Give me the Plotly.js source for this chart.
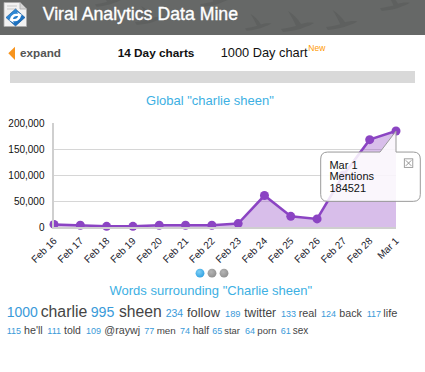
<!DOCTYPE html>
<html>
<head>
<meta charset="utf-8">
<script src="https://cdn.plot.ly/plotly-3.0.1.min.js"></script>
<style>
  html, body { margin:0; padding:0; background:#fff; }
  body { width:425px; height:372px; overflow:hidden; position:relative; font-family:"Liberation Sans", Arial, Helvetica, sans-serif; }
  #chart { position:absolute; left:0; top:90px; width:425px; height:180px; }
  #page { position:absolute; left:0; top:0; width:425px; height:372px; pointer-events:none; }
  #tip { position:absolute; left:0; top:0; width:425px; height:372px; pointer-events:none; }
</style>
</head>
<body>
<div id="chart"></div>
<svg id="page" width="425" height="372" xmlns="http://www.w3.org/2000/svg">
  <defs>
    <radialGradient id="gblue" cx="40%" cy="35%" r="70%">
      <stop offset="0" stop-color="#7fd0f7"/>
      <stop offset="1" stop-color="#2e9fe0"/>
    </radialGradient>
    <radialGradient id="ggray" cx="40%" cy="35%" r="70%">
      <stop offset="0" stop-color="#b5b5b5"/>
      <stop offset="1" stop-color="#8e8e8e"/>
    </radialGradient>
    <linearGradient id="glogo" x1="0" y1="0" x2="1" y2="1">
      <stop offset="0" stop-color="#3d9be6"/>
      <stop offset="1" stop-color="#0d5fb0"/>
    </linearGradient>
    <path id="bird" d="M0,18 C7,17 11,16 15,15 C13,10 10,5 7,0 C12,3 17,8 20,13 C24,12 28,11 33,12 C30,14 27,15 24,16 C18,19 10,20 2,21 Z"/>
  </defs>
  <!-- header -->
  <rect x="0" y="0" width="425" height="35" fill="#666867"/>
  <g fill="#5e605f">
    <use href="#bird" transform="translate(281,11) scale(1)"/>
    <use href="#bird" transform="translate(326,10) scale(0.95)"/>
    <use href="#bird" transform="translate(135,6) scale(0.9)"/>
    <use href="#bird" transform="translate(200,-12) scale(0.9)"/>
    <use href="#bird" transform="translate(245,14) scale(0.8)"/>
    <use href="#bird" transform="translate(380,-8) scale(0.9)"/>
    <use href="#bird" transform="translate(95,-10) scale(0.8)"/>
  </g>
  <!-- logo -->
  <g transform="translate(3,2)">
    <path d="M1,0.5 H17 L23.5,7 V24.5 H1 Z" fill="#f2f2f2" stroke="#aaa" stroke-width="0.8"/>
    <path d="M17,0.5 V7 H23.5" fill="#d6d6d6" stroke="#aaa" stroke-width="0.8"/>
    <g stroke="#c8c8c8" stroke-width="1">
      <line x1="4" y1="4" x2="14" y2="4"/>
      <line x1="4" y1="7" x2="14" y2="7"/>
    </g>
    <path d="M12.5,7 L22,15.5 L12.5,24 L3,15.5 Z" fill="url(#glogo)" stroke="#0b4f96" stroke-width="0.6"/>
    <path d="M7,17 C8,13 11,11 15,12 L14,10 L19,13 L14.5,16 L15,14 C12,13.5 10,15 9,18 Z" fill="#fff"/>
    <path d="M18,14 C17,18 14,20 10,19 L11,21 L6,18 L10.5,15 L10,17 C13,17.5 15,16 16,13 Z" fill="#fff"/>
  </g>
  <text x="42.7" y="20" font-size="17.7" fill="#ffffff" stroke="#ffffff" stroke-width="0.35">Viral Analytics Data Mine</text>

  <!-- nav -->
  <polygon points="8.3,53.3 15,46.7 15,60" fill="#f7941d"/>
  <text x="20" y="57.3" font-size="11.7" font-weight="bold" fill="#555">expand</text>
  <text x="117.7" y="57.3" font-size="11.8" font-weight="bold" fill="#111">14 Day charts</text>
  <text x="220.7" y="57.3" font-size="12.8" fill="#111">1000 Day chart</text>
  <text x="308.3" y="50.7" font-size="8.5" fill="#ff9900">New</text>
  <rect x="10" y="71" width="405" height="12" fill="#d9d9d9"/>

  <!-- pager dots -->
  <circle cx="200" cy="273.2" r="4.4" fill="url(#gblue)"/>
  <circle cx="212" cy="273.2" r="4.4" fill="url(#ggray)"/>
  <circle cx="224" cy="273.2" r="4.4" fill="url(#ggray)"/>

  <text x="210.8" y="295" font-size="13" fill="#3db0e3" text-anchor="middle">Words surrounding "Charlie sheen"</text>
  <g id="words"></g>
</svg>
<svg id="tip" width="425" height="372" xmlns="http://www.w3.org/2000/svg"></svg>

<script>
// ---- data ----
var dates = ['Feb 16','Feb 17','Feb 18','Feb 19','Feb 20','Feb 21','Feb 22','Feb 23','Feb 24','Feb 25','Feb 26','Feb 27','Feb 28','Mar 1'];
var mentions = [5000, 3300, 1300, 1300, 3300, 3300, 3300, 6500, 60500, 20500, 15500, 100000, 168000, 184521];
var yTickVals = [0, 50000, 100000, 150000, 200000];
var chartTitle = 'Global "charlie sheen"';
var seriesName = 'Mentions';

// word cloud: counts and words
var wordCounts1 = ['1000','995','234','189','133','124','117'];
var words1 = ['charlie','sheen','follow','twitter','real','back','life'];
var wordCounts2 = ['115','111','109','77','74','65','64','61'];
var words2 = ['he\'ll','told','@raywj','men','half','star','porn','sex'];

// ---- word cloud layout (positions / sizes) ----
var line1 = { y: 317.3,
  numX: [6.7, 90.7, 165.7, 225, 281, 321, 366.7], numS: [14, 14.2, 10.5, 9.3, 9, 9, 9],
  wordX: [40.7, 119, 187, 244.3, 298.7, 339.3, 383.3], wordS: [15.8, 15.7, 12.9, 11.9, 10.8, 10.7, 11] };
var line2 = { y: 334,
  numX: [6.7, 47.3, 86, 144.3, 180, 212.3, 245, 280.7], numS: [9, 9, 9, 9, 9, 9, 9, 9],
  wordX: [24, 64, 104.3, 156.7, 192.7, 224.3, 257.3, 292.7], wordS: [10.7, 10.5, 10.7, 9.8, 10.1, 9.4, 9.7, 10] };
var NS = 'http://www.w3.org/2000/svg';
function addText(parent, x, y, s, fill, str) {
  var t = document.createElementNS(NS, 'text');
  t.setAttribute('x', x); t.setAttribute('y', y);
  t.setAttribute('font-size', s); t.setAttribute('fill', fill);
  t.textContent = str; parent.appendChild(t); return t;
}
var wg = document.getElementById('words');
function drawLine(counts, words, L) {
  for (var i = 0; i < counts.length; i++) addText(wg, L.numX[i], L.y, L.numS[i], '#3a9ad9', counts[i]);
  for (var j = 0; j < words.length; j++) addText(wg, L.wordX[j], L.y, L.wordS[j], '#444', words[j]);
}
drawLine(wordCounts1, words1, line1);
drawLine(wordCounts2, words2, line2);

// ---- chart ----
var trace = {
  x: dates, y: mentions, type: 'scatter', mode: 'lines+markers', name: seriesName,
  fill: 'tozeroy', fillcolor: 'rgba(142,68,196,0.35)',
  line: { color: '#8b44c3', width: 2.5 },
  marker: { color: '#8b44c3', size: 9 },
  cliponaxis: false, hoverinfo: 'none'
};
var layout = {
  width: 425, height: 180,
  margin: { l: 54, r: 29, t: 33, b: 43 },
  paper_bgcolor: 'rgba(0,0,0,0)', plot_bgcolor: 'rgba(0,0,0,0)',
  font: { family: '"Liberation Sans", Arial, Helvetica, sans-serif', color: '#222' },
  title: { text: chartTitle, font: { size: 13, color: '#3db0e3' }, x: 0.494, xref: 'container', xanchor: 'center', y: 0.94, yref: 'container', yanchor: 'middle' },
  showlegend: false,
  xaxis: {
    type: 'category', categoryorder: 'array', categoryarray: dates, range: [0, dates.length - 1],
    tickangle: -45, tickfont: { size: 10, color: '#1c1c2e' },
    showgrid: false, zeroline: false, showline: true, linecolor: '#cfcfcf', linewidth: 2,
    ticks: 'outside', ticklen: 2, tickcolor: 'rgba(0,0,0,0)', fixedrange: true
  },
  yaxis: {
    range: [0, 200000], tickvals: yTickVals, tickformat: ',', tickfont: { size: 10, color: '#111' },
    showgrid: true, gridcolor: '#d6d6d6', gridwidth: 1, zeroline: false,
    showline: true, linecolor: '#cfcfcf', linewidth: 2.5,
    ticks: 'outside', ticklen: 5, tickcolor: 'rgba(0,0,0,0)', fixedrange: true
  }
};
Plotly.newPlot('chart', [trace], layout, { displayModeBar: false, staticPlot: true }).then(function (gd) {
  var fl = gd._fullLayout, xa = fl.xaxis, ya = fl.yaxis;
  var k = dates.length - 1;
  var ax = xa._offset + xa.l2p(k);
  var ay = 90 + ya._offset + ya.l2p(mentions[k]);
  var tip = document.getElementById('tip');
  var L = ax - 75.3, R = ax + 24.3, T = ay + 21, B = ay + 70.3, r = 7;
  var wl = ax - 16;
  var d = 'M' + (L + r) + ',' + T + ' H' + wl + ' L' + ax + ',' + ay + ' L' + ax + ',' + T +
          ' H' + (R - r) + ' Q' + R + ',' + T + ' ' + R + ',' + (T + r) +
          ' V' + (B - r) + ' Q' + R + ',' + B + ' ' + (R - r) + ',' + B +
          ' H' + (L + r) + ' Q' + L + ',' + B + ' ' + L + ',' + (B - r) +
          ' V' + (T + r) + ' Q' + L + ',' + T + ' ' + (L + r) + ',' + T + ' Z';
  var p = document.createElementNS(NS, 'path');
  p.setAttribute('d', d); p.setAttribute('fill', 'rgba(255,255,255,0.86)');
  p.setAttribute('stroke', '#9a9a9a'); p.setAttribute('stroke-width', '1');
  tip.appendChild(p);
  var g = document.createElementNS(NS, 'g');
  g.setAttribute('font-family', '"Liberation Sans", Arial, Helvetica, sans-serif');
  tip.appendChild(g);
  addText(g, L + 8.7, T + 17, 11, '#111', dates[k]);
  addText(g, L + 8.7, T + 28.3, 11, '#111', seriesName);
  addText(g, L + 8.7, T + 39.5, 11, '#111', String(mentions[k]));
  // close box
  var cx = R - 16, cy = T + 6.8;
  var box = document.createElementNS(NS, 'rect');
  box.setAttribute('x', cx); box.setAttribute('y', cy); box.setAttribute('width', 8.5); box.setAttribute('height', 8.5);
  box.setAttribute('fill', '#fff'); box.setAttribute('stroke', '#888'); box.setAttribute('stroke-width', '0.8');
  tip.appendChild(box);
  var x1 = document.createElementNS(NS, 'path');
  x1.setAttribute('d', 'M' + (cx + 1.5) + ',' + (cy + 1.5) + ' L' + (cx + 7) + ',' + (cy + 7) + ' M' + (cx + 7) + ',' + (cy + 1.5) + ' L' + (cx + 1.5) + ',' + (cy + 7));
  x1.setAttribute('stroke', '#888'); x1.setAttribute('stroke-width', '0.9');
  tip.appendChild(x1);
});
</script>
<style>#page text, #tip text { font-family:"Liberation Sans", Arial, Helvetica, sans-serif; }</style>
</body>
</html>
